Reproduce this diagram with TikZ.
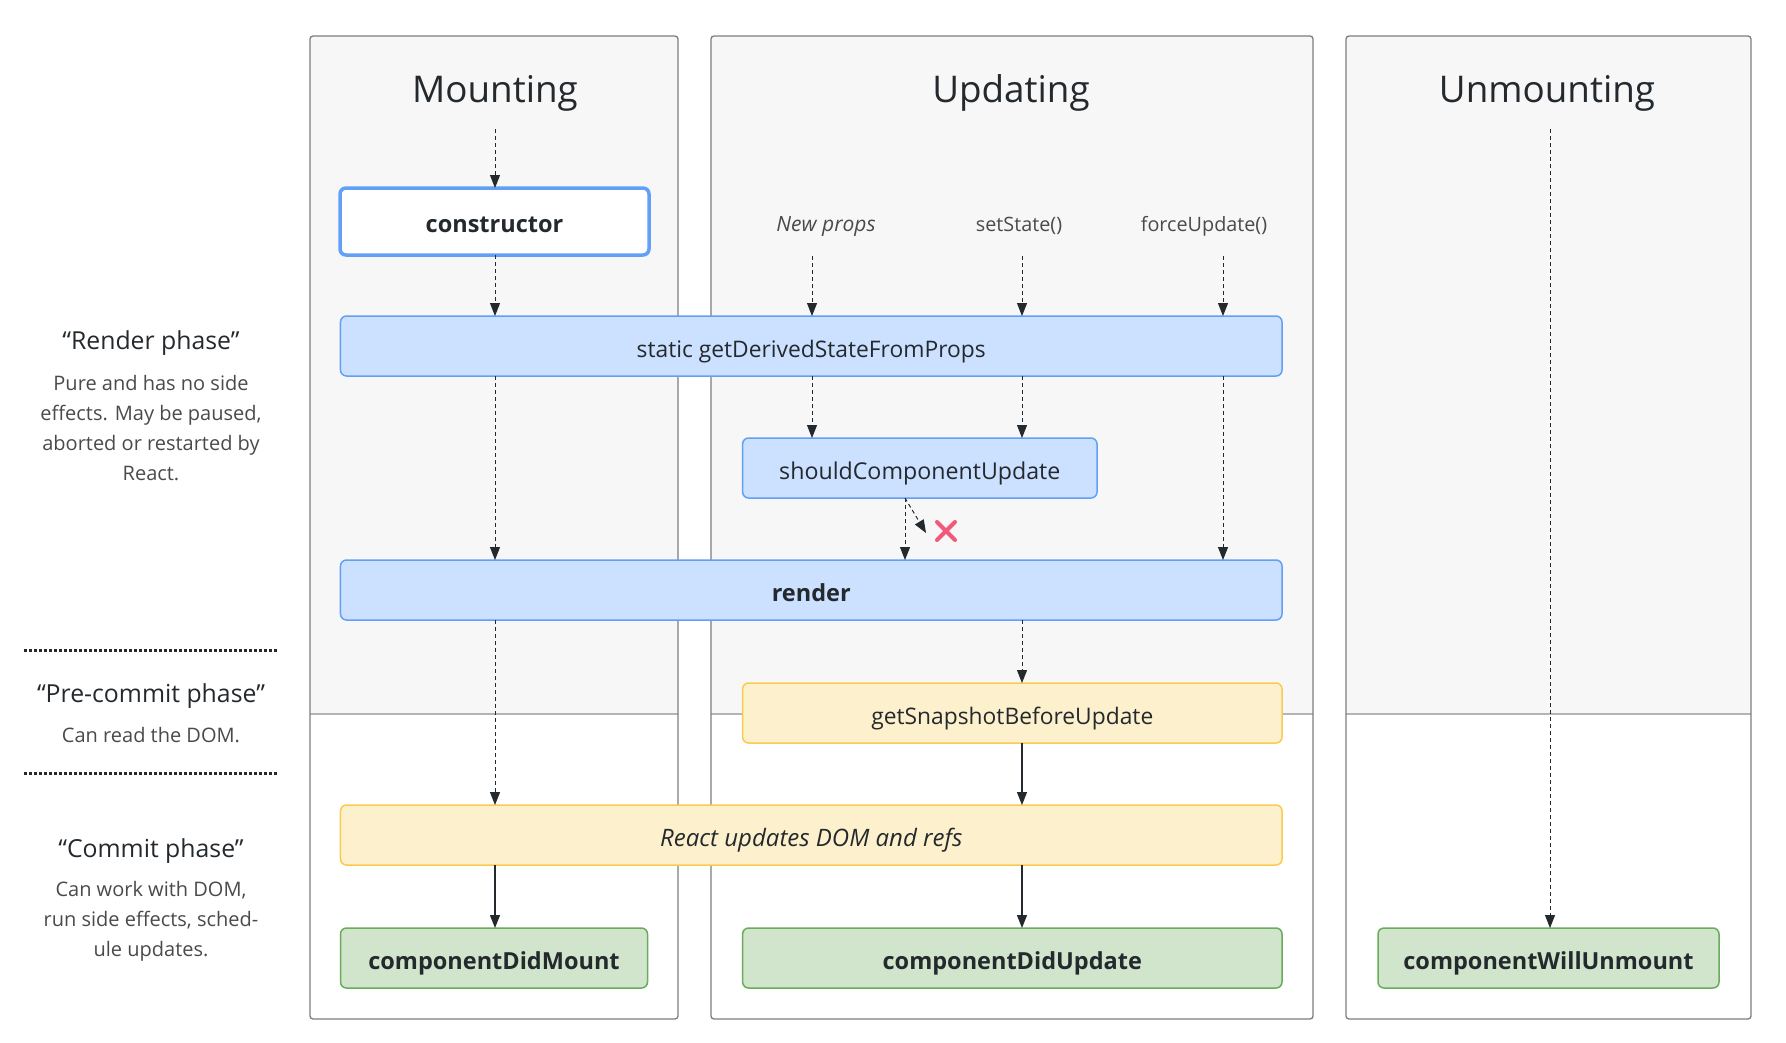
\documentclass[tikz,border=0pt]{standalone}
\usepackage{fontspec}
\setmainfont{Open Sans}
\usetikzlibrary{arrows.meta}
\definecolor{colfill}{HTML}{F7F7F7}
\definecolor{colline}{HTML}{7D7D7D}
\definecolor{sepline}{HTML}{B4B4B4}
\definecolor{bluefill}{HTML}{CCE0FF}
\definecolor{blueline}{HTML}{61A0F6}
\definecolor{yelfill}{HTML}{FDF0CC}
\definecolor{yelline}{HTML}{FBCB50}
\definecolor{grnfill}{HTML}{D0E5CC}
\definecolor{grnline}{HTML}{6AAB5C}
\definecolor{ink}{HTML}{24292E}
\definecolor{soft}{HTML}{4A4A4A}
\definecolor{xred}{HTML}{F2587A}
\tikzset{
  box/.style={rectangle, rounded corners=6bp, inner sep=0pt, outer sep=0pt, line width=1.5bp, text=ink, text height=27bp, text depth=5bp},
  bluebox/.style={box, fill=bluefill, draw=blueline},
  yelbox/.style={box, fill=yelfill, draw=yelline},
  grnbox/.style={box, fill=grnfill, draw=grnline},
  regtext/.style={font=\fontsize{22.8bp}{27bp}\selectfont},
  boldtext/.style={font=\fontsize{23.5bp}{28bp}\selectfont\bfseries},
  title/.style={text=ink, inner sep=0pt, anchor=base, font=\fontsize{36.8bp}{42bp}\selectfont},
  trig/.style={text=soft, inner sep=0pt, anchor=base, font=\fontsize{19.8bp}{24bp}\selectfont},
  phasehead/.style={text=ink, inner sep=0pt, align=center, font=\fontsize{24.8bp}{30bp}\selectfont},
  phasebody/.style={text=soft, inner sep=0pt, align=center, font=\fontsize{20bp}{30bp}\selectfont},
  darr/.style={draw=ink, line width=1bp, dash pattern=on 4bp off 3bp, -{Triangle[length=13bp,width=10bp]}},
  sarr/.style={draw=ink, line width=1.3bp, -{Triangle[length=13bp,width=10bp]}},
  sep/.style={draw=ink, line width=3bp, dash pattern=on 3bp off 2bp},
  colborder/.style={draw=colline, line width=1.3bp, rounded corners=3bp},
}
\begin{document}
\begin{tikzpicture}[x=1bp,y=-1bp]
\useasboundingbox (0,0) rectangle (1786,1042);
% columns
\foreach \xa/\xb in {310/678, 711/1313, 1346/1751} {
  \fill[white, rounded corners=3bp] (\xa,36) rectangle (\xb,1019);
  \begin{scope}
    \clip[rounded corners=3bp] (\xa,36) rectangle (\xb,1019);
    \fill[colfill] (\xa,36) rectangle (\xb,714);
  \end{scope}
  \draw[sepline, line width=1.3bp] (\xa,714) -- (\xb,714);
  \draw[colborder] (\xa,36) rectangle (\xb,1019);
}
% titles
\node[title] (tmount) at (495,102) {Mounting};
\node[title] (tupd) at (1011,102) {Updating};
\node[title] (tunm) at (1547,102) {Unmounting};
% triggers
\node[trig, font=\fontsize{21bp}{24bp}\selectfont\itshape] (np) at (826,231) {New props};
\node[trig] (ss) at (1019,231) {setState()};
\node[trig] (fu) at (1204,231) {forceUpdate()};
% boxes
\node[box, fill=white, draw=blueline, line width=3.5bp, boldtext, minimum width=309bp, minimum height=67bp] (cons) at (494.5,221.5) {constructor};
\node[bluebox, regtext, minimum width=941.5bp, minimum height=60bp] (gdsfp) at (811.25,346) {static getDerivedStateFromProps};
\node[bluebox, font=\fontsize{23.2bp}{27bp}\selectfont, minimum width=354.4bp, minimum height=60bp] (scu) at (919.8,468) {shouldComponentUpdate};
\node[bluebox, boldtext, minimum width=941.5bp, minimum height=60bp] (render) at (811.25,590) {render};
\node[yelbox, regtext, minimum width=539.4bp, minimum height=60bp] (gsbu) at (1012.3,713) {getSnapshotBeforeUpdate};
\node[yelbox, font=\fontsize{24bp}{28bp}\selectfont\itshape, minimum width=941.5bp, minimum height=60bp] (rud) at (811.25,835) {React updates DOM and refs};
\node[grnbox, boldtext, minimum width=307bp, minimum height=60bp] (cdm) at (494,958) {componentDidMount};
\node[grnbox, boldtext, minimum width=539.4bp, minimum height=60bp] (cdu) at (1012.3,958) {componentDidUpdate};
\node[grnbox, boldtext, minimum width=341bp, minimum height=60bp] (cwu) at (1548.5,958) {componentWillUnmount};
% arrow coordinates
\coordinate (mx) at (495,129);
\coordinate (npx) at (812,256);
\coordinate (ssx) at (1022,256);
\coordinate (fux) at (1223,256);
\coordinate (scux) at (905,498);
\coordinate (xtip) at (926,533);
\coordinate (ux) at (1550,129);
% mounting
\draw[darr] (mx) -- (mx |- cons.north);
\draw[darr] (cons.south -| mx) -- (gdsfp.north -| mx);
\draw[darr] (gdsfp.south -| mx) -- (render.north -| mx);
\draw[darr] (render.south -| mx) -- (rud.north -| mx);
\draw[sarr] (rud.south -| mx) -- (cdm.north -| mx);
% updating
\draw[darr] (npx) -- (gdsfp.north -| npx);
\draw[darr] (ssx) -- (gdsfp.north -| ssx);
\draw[darr] (fux) -- (gdsfp.north -| fux);
\draw[darr] (gdsfp.south -| npx) -- (scu.north -| npx);
\draw[darr] (gdsfp.south -| ssx) -- (scu.north -| ssx);
\draw[darr] (gdsfp.south -| fux) -- (render.north -| fux);
\draw[darr] (scu.south -| scux) -- (render.north -| scux);
\draw[darr] (scu.south -| scux) -- (xtip);
\draw[darr] (render.south -| ssx) -- (gsbu.north -| ssx);
\draw[sarr] (gsbu.south -| ssx) -- (rud.north -| ssx);
\draw[sarr] (rud.south -| ssx) -- (cdu.north -| ssx);
% unmounting
\draw[darr] (ux) -- (cwu.north -| ux);
% cancel mark
\draw[xred, line width=4bp, line cap=round] (937,522) -- (955,540) (937,540) -- (955,522);
% phase separators
\draw[sep] (24,650) -- (279,650);
\draw[sep] (24,773) -- (279,773);
% phase descriptions
\node[phasehead] (rph) at (151,343) {“Render phase”};
\node[phasebody] (rpb) at (151,428) {Pure and has no side\\effects. May be paused,\\aborted or restarted by\\React.};
\node[phasehead] (pph) at (151,696) {“Pre-commit phase”};
\node[phasebody] (ppb) at (151,735) {Can read the DOM.};
\node[phasehead] (cph) at (151,851) {“Commit phase”};
\node[phasebody] (cpb) at (151,921) {Can work with DOM,\\run side effects, sched-\\ule updates.};
\end{tikzpicture}
\end{document}
